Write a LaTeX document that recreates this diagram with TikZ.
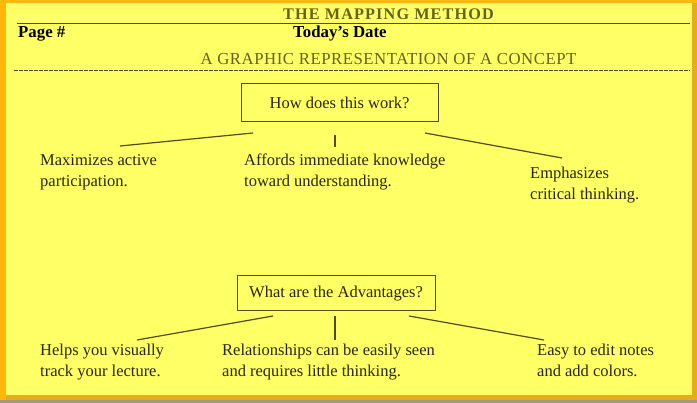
\documentclass[tikz,border=0pt]{standalone}
\usepackage{fontspec}
\setmainfont{Liberation Serif}
\definecolor{bgyellow}{HTML}{FFFF66}
\definecolor{frameorange}{HTML}{FDB80A}
\definecolor{framedark}{HTML}{E6AC1E}
\definecolor{olive}{HTML}{4F4C10}
\definecolor{titleolive}{HTML}{66621A}
\definecolor{txt}{HTML}{2A2610}
\definecolor{shadowgray}{HTML}{A09A80}
\tikzset{
  body/.style={font=\fontsize{16.5}{21}\selectfont, text=txt, align=left, anchor=north west, inner sep=0pt},
  qbox/.style={draw=olive, line width=1pt, font=\fontsize{16.5}{19}\selectfont, text=txt, inner sep=0pt},
  conn/.style={draw=olive, line width=1.2pt},
}
\begin{document}
\begin{tikzpicture}[x=1pt,y=-1pt]
\useasboundingbox (0,0) rectangle (697,403);
% frame
\fill[shadowgray] (0,0) rectangle (697,403);
\fill[frameorange] (0,0) rectangle (697,400);
\fill[framedark] (692,3) rectangle (697,400);
\fill[framedark] (6,395) rectangle (697,400);
\fill[bgyellow] (6,3) rectangle (692,395);
% header
\node[font=\fontsize{16.2}{18}\bfseries\selectfont\addfontfeatures{LetterSpace=7}, text=titleolive] (title) at (388.5,14) {THE MAPPING METHOD};
\coordinate (hl1) at (17,23.5);
\coordinate (hl2) at (690,23.5);
\draw[olive, line width=1.8pt] (hl1) -- (hl2);
\node[font=\fontsize{16.8}{18}\bfseries\selectfont, anchor=west, inner sep=0pt] (page) at (18,33.5) {Page \#};
\node[font=\fontsize{16.8}{18}\bfseries\selectfont, anchor=west, inner sep=0pt] (date) at (293,33.5) {Today’s Date};
\node[font=\fontsize{16.8}{18}\selectfont\addfontfeatures{LetterSpace=3}, text=titleolive] (sub) at (388.5,59) {A GRAPHIC REPRESENTATION OF A CONCEPT};
\coordinate (dl1) at (14,70);
\coordinate (dl2) at (690,70);
\draw[olive, line width=0.8pt, dash pattern=on 3.5pt off 1.5pt] (dl1) -- (dl2);
% first box
\node[qbox, minimum width=197pt, minimum height=38pt] (q1) at (339.5,103) {How does this work?};
\coordinate (a1) at (253,133); \coordinate (a2) at (120,146);
\coordinate (b1) at (335,135); \coordinate (b2) at (335,147);
\coordinate (c1) at (425,133); \coordinate (c2) at (562,158);
\draw[conn] (a1) -- (a2);
\draw[conn] (b1) -- (b2);
\draw[conn] (c1) -- (c2);
\node[body] (t1) at (40,154) {Maximizes active\\participation.};
\node[body] (t2) at (244,154) {Affords immediate knowledge\\toward understanding.};
\node[body] (t3) at (530,167) {Emphasizes\\critical thinking.};
% second box
\node[qbox, minimum width=198pt, minimum height=35pt] (q2) at (336,293.5) {What are the Advantages?};
\coordinate (d1) at (273,316); \coordinate (d2) at (137,340);
\coordinate (e1) at (335,316); \coordinate (e2) at (335,340);
\coordinate (f1) at (409,316); \coordinate (f2) at (544,340);
\draw[conn] (d1) -- (d2);
\draw[conn] (e1) -- (e2);
\draw[conn] (f1) -- (f2);
\node[body] (t4) at (40,344) {Helps you visually\\track your lecture.};
\node[body] (t5) at (222,344) {Relationships can be easily seen\\and requires little thinking.};
\node[body] (t6) at (537,344) {Easy to edit notes\\and add colors.};
\end{tikzpicture}
\end{document}
